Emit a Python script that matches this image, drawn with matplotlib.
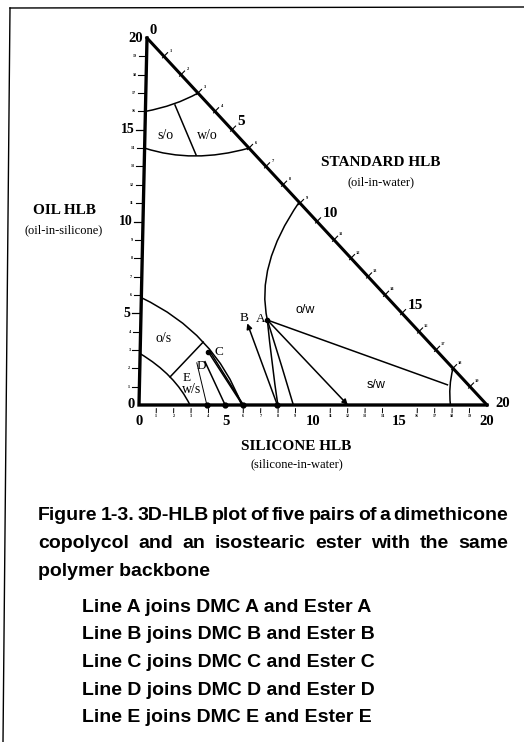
import numpy as np
import matplotlib
matplotlib.use("Agg")
import matplotlib.pyplot as plt
import matplotlib.transforms as mtransforms
from matplotlib.path import Path
from matplotlib.patches import PathPatch
from matplotlib.lines import Line2D

# silicone HLB along x, oil HLB along y, standard HLB along the hypotenuse
hlb_max = 20
hlb_ticks = list(range(0, 21))
major_ticks = [0, 5, 10, 15, 20]

so_top = [(0.0, 16.0), (1.6, 16.4), (3.0, 17.0)]
so_bottom = [(0.0, 14.0), (2.9, 13.57), (6.0, 14.0)]
so_divider = [(1.69, 16.35), (2.97, 13.62)]
ow_upper = [(8.95, 11.05), (7.31, 7.72), (7.27, 4.63)]
ow_lower = [(7.27, 4.63), (8.16, 2.09), (8.87, 0.0)]
ow_inner = [(7.27, 4.63), (7.6, 2.27), (7.98, 0.0)]
ow_sw_line = [(7.27, 4.63), (17.7, 1.1)]
sw_arc = [(18.0, 2.0), (17.85, 1.0), (17.9, 0.0)]
os_outer = [(0.0, 5.85), (3.61, 3.43), (5.9, 0.0)]
os_inner = [(0.0, 2.8), (1.75, 1.53), (2.93, 0.0)]
os_divider = [(1.75, 1.53), (3.61, 3.43)]
c_twin = [(4.06, 2.84), (6.0, 0.0)]

# DMC (on the silicone axis) and ester pairs
pair_names = ["A", "B", "C", "D", "E"]
ester_x = [7.27, 6.12, 3.91, 3.74, 3.27]
ester_y = [4.63, 4.45, 2.90, 2.36, 2.30]
dmc_x = [12.0, 7.95, 5.95, 4.95, 3.90]
label_x = [6.90, 5.93, 4.53, 3.54, 2.72]
label_y = [4.69, 4.74, 2.89, 2.13, 1.47]

region_names = ["s/o", "w/o", "o/s", "w/s", "o/w", "s/w"]
region_x = [1.18, 3.57, 1.32, 3.03, 9.42, 13.6]
region_y = [14.71, 14.71, 3.65, 0.87, 5.18, 1.09]

caption_1 = "Figure 1-3. 3D-HLB plot of five pairs of a dimethicone"
caption_2 = "copolycol and an isostearic ester with the same"
caption_3 = "polymer backbone"

W, H = 524, 742
SERIF = "Liberation Serif"
SANS = "Liberation Sans"


def arc3(pts):
    # quadratic curve through start, middle and end point
    (x0, y0), (xm, ym), (x1, y1) = pts
    cx, cy = 2 * xm - (x0 + x1) / 2, 2 * ym - (y0 + y1) / 2
    return Path([(x0, y0), (cx, cy), (x1, y1)], [Path.MOVETO, Path.CURVE3, Path.CURVE3])


def justify(fig, words, x0, x1, y, **kw):
    r = fig.canvas.get_renderer()
    texts = [fig.text(0, y, w, **kw) for w in words]
    widths = [t.get_window_extent(r).width for t in texts]
    gap = ((x1 - x0) - sum(widths)) / (len(words) - 1)
    x = x0
    for t, w in zip(texts, widths):
        t.set_x(x / W)
        x += w + gap


fig = plt.figure(figsize=(W / 100, H / 100), dpi=100)
ax = fig.add_axes([139 / W, 1 - 405 / H, 348 / W, 367 / H])
ax.set_xlim(0, hlb_max)
ax.set_ylim(0, hlb_max)
ax.axis("off")

# the scanned triangle leans a little to the right at the top
tr = mtransforms.Affine2D().skew(np.arctan(0.023), 0) + ax.transData

# triangle
ax.plot([0, 0, hlb_max], [hlb_max, 0, 0], color="black", lw=2.4, transform=tr,
        solid_joinstyle="miter", clip_on=False)
ax.plot([0, hlb_max], [hlb_max, 0], color="black", lw=2.2, transform=tr, clip_on=False)

# oil HLB ticks (left)
for t in hlb_ticks:
    if t in major_ticks:
        if t in (5, 10, 15):
            ax.plot([-0.5, -0.1], [t, t], color="black", lw=0.9, transform=tr, clip_on=False)
            ax.text(-0.6, t, str(t), ha="right", va="center", fontsize=10, fontweight="bold",
                    family=SERIF, transform=tr)
        else:
            ax.text(-0.25, t, str(t), ha="right", va="center", fontsize=10.5, fontweight="bold",
                    family=SERIF, transform=tr)
    else:
        ax.plot([-0.45, -0.1], [t, t], color="black", lw=0.8, transform=tr, clip_on=False)
        ax.text(-0.55, t, str(t), ha="right", va="center", fontsize=3, fontweight="bold",
                family=SERIF, transform=tr)

# silicone HLB ticks (bottom)
for t in hlb_ticks:
    if t in major_ticks:
        ax.text(t, -0.9, str(t), ha="center", va="center", fontsize=10.5, fontweight="bold",
                family=SERIF, transform=tr)
    else:
        ax.plot([t, t], [-0.2, -0.42], color="black", lw=0.7, transform=tr, clip_on=False)
        ax.text(t, -0.62, str(t), ha="center", va="center", fontsize=3, fontweight="bold",
                family=SERIF, transform=tr)

# standard HLB ticks (hypotenuse)
for t in hlb_ticks[1:-1]:
    ax.plot([t - 0.08, t + 0.2], [hlb_max - t - 0.08, hlb_max - t + 0.2], color="black",
            lw=0.8, transform=tr, clip_on=False)
    if t in major_ticks:
        ax.annotate(str(t), (t, hlb_max - t), xycoords=tr, xytext=(4, 1), textcoords="offset points",
                    ha="left", va="bottom", fontsize=11, fontweight="bold", family=SERIF)
    else:
        ax.annotate(str(t), (t, hlb_max - t), xycoords=tr, xytext=(5, 4), textcoords="offset points",
                    ha="center", va="center", fontsize=3.2, fontweight="bold", family=SERIF)
ax.annotate("0", (0, hlb_max), xycoords=tr, xytext=(2, 1), textcoords="offset points",
            ha="left", va="bottom", fontsize=10.5, fontweight="bold", family=SERIF)
ax.annotate("20", (hlb_max, 0), xycoords=tr, xytext=(6, 1), textcoords="offset points",
            ha="left", va="center", fontsize=10.5, fontweight="bold", family=SERIF)

# region boundaries
for curve in [so_top, so_bottom, ow_upper, ow_lower, ow_inner, sw_arc, os_outer, os_inner]:
    ax.add_patch(PathPatch(arc3(curve), fill=False, lw=1.1, edgecolor="black", transform=tr))
for seg in [so_divider, ow_sw_line, os_divider, c_twin]:
    xs, ys = zip(*seg)
    ax.plot(xs, ys, color="black", lw=1.1, transform=tr)

# DMC / ester lines
for i, name in enumerate(pair_names):
    lw = 0.7 if name == "E" else 1.1
    if name == "A":
        ax.annotate("", xy=(dmc_x[i], 0), xycoords=tr, xytext=(ester_x[i], ester_y[i]), textcoords=tr,
                    arrowprops=dict(arrowstyle="-|>", lw=lw, color="black", mutation_scale=8,
                                    shrinkA=0, shrinkB=0))
    elif name == "B":
        ax.annotate("", xy=(ester_x[i], ester_y[i]), xycoords=tr, xytext=(dmc_x[i], 0), textcoords=tr,
                    arrowprops=dict(arrowstyle="-|>", lw=lw, color="black", mutation_scale=8,
                                    shrinkA=0, shrinkB=0))
    else:
        ax.plot([ester_x[i], dmc_x[i]], [ester_y[i], 0], color="black", lw=lw, transform=tr)
    ax.text(label_x[i], label_y[i], name, ha="center", va="center", fontsize=9.5,
            family=SERIF, transform=tr)

ax.plot(dmc_x[1:], [0] * 4, "o", color="black", ms=3.5, transform=tr, clip_on=False)
ax.plot([ester_x[0], ester_x[2]], [ester_y[0], ester_y[2]], "o", color="black", ms=3, transform=tr)

for name, x, y in zip(region_names, region_x, region_y):
    fam = SANS if name in ("o/w", "s/w") else SERIF
    ax.text(x, y, name, ha="center", va="center", fontsize=10 if fam == SERIF else 9,
            family=fam, transform=tr)

# axis titles
fig.text(64.5 / W, 1 - 211 / H, "OIL HLB", ha="center", va="center", fontsize=11,
         fontweight="bold", family=SERIF)
fig.text(64 / W, 1 - 230 / H, "(oil-in-silicone)", ha="center", va="center", fontsize=9,
         family=SERIF)
fig.text(380.5 / W, 1 - 163 / H, "STANDARD HLB", ha="center", va="center", fontsize=11,
         fontweight="bold", family=SERIF)
fig.text(381.5 / W, 1 - 182 / H, "(oil-in-water)", ha="center", va="center", fontsize=9,
         family=SERIF)
fig.text(296.5 / W, 1 - 446.5 / H, "SILICONE HLB", ha="center", va="center", fontsize=11,
         fontweight="bold", family=SERIF)
fig.text(296.5 / W, 1 - 464 / H, "(silicone-in-water)", ha="center", va="center", fontsize=9,
         family=SERIF)

# caption
cap = dict(fontsize=14, fontweight="bold", family=SANS, va="center")
justify(fig, caption_1.split(), 38, 508, 1 - 516 / H, **cap)
justify(fig, caption_2.split(), 38, 508, 1 - 543 / H, **cap)
fig.text(38 / W, 1 - 571 / H, caption_3, **cap)
for i, name in enumerate(pair_names):
    fig.text(82 / W, 1 - (607 + 27.7 * i) / H, f"Line {name} joins DMC {name} and Ester {name}", **cap)

# page frame
fig.add_artist(Line2D([10 / W, 3 / W], [1 - 8 / H, 0], color="black", lw=1.0))
fig.add_artist(Line2D([10 / W, 1], [1 - 8 / H, 1 - 7 / H], color="black", lw=1.0))

fig.savefig("out.png", dpi=100)
